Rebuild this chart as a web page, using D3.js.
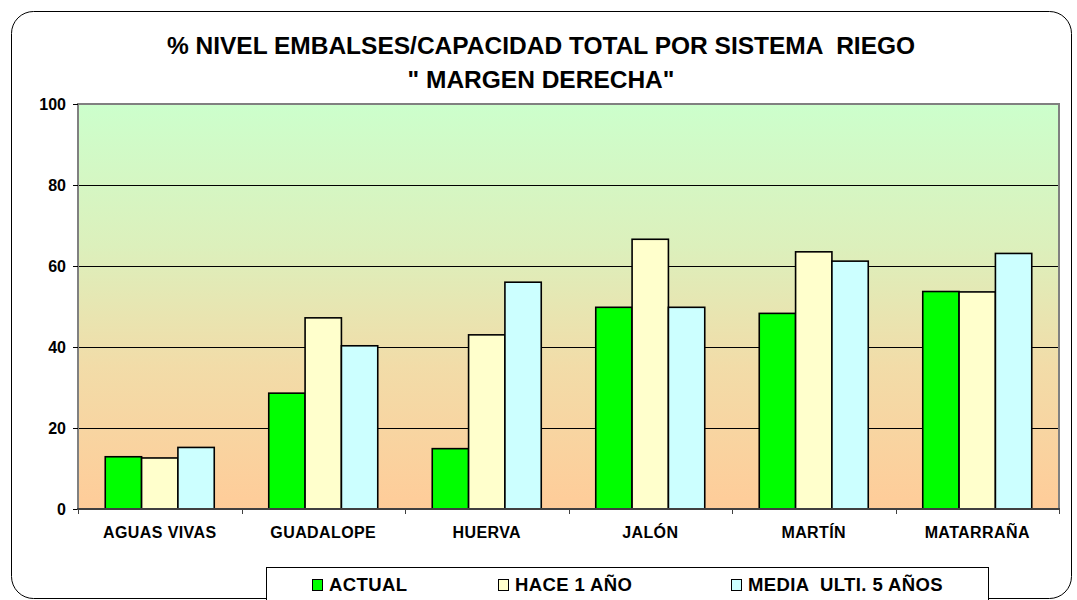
<!DOCTYPE html>
<html>
<head>
<meta charset="utf-8">
<script src="https://cdn.jsdelivr.net/npm/d3@7/dist/d3.min.js"></script>
<style>
  body { margin: 0; background: #fff; }
  svg { display: block; font-family: "Liberation Sans", Arial, sans-serif; font-weight: bold; }
  text { white-space: pre; }
</style>
</head>
<body>
<svg id="chart" width="1077" height="600"></svg>
<script>
// datos
const categories = ['AGUAS VIVAS', 'GUADALOPE', 'HUERVA', 'JALÓN', 'MARTÍN', 'MATARRAÑA']
const seriesNames = ['ACTUAL', 'HACE 1 AÑO', 'MEDIA  ULTI. 5 AÑOS']
const actual = [12.9, 28.6, 14.9, 49.8, 48.3, 53.7]
const haceUnAno = [12.6, 47.2, 43.0, 66.6, 63.5, 53.6]
const media5 = [15.2, 40.3, 56.0, 49.8, 61.2, 63.1]
const yTicks = [0, 20, 40, 60, 80, 100]
const titleLines = ['% NIVEL EMBALSES/CAPACIDAD TOTAL POR SISTEMA  RIEGO', '" MARGEN DERECHA"']

const seriesValues = [actual, haceUnAno, media5]
const colors = ['#00ff00', '#ffffcc', '#ccffff']

let svg = d3.select('#chart')

// marco exterior
svg.append('rect')
  .attr('x', 11.5).attr('y', 11.5)
  .attr('width', 1060).attr('height', 587)
  .attr('rx', 22).attr('ry', 22)
  .attr('fill', '#fff')
  .attr('stroke', '#000')
  .attr('stroke-width', 1)

// area del grafico
let pLeft = 78, pRight = 1059, pTop = 104, pBottom = 509

let x = d3.scaleBand().domain(categories).range([pLeft, pRight])
let xs = d3.scaleBand().domain(seriesNames).range([0, x.bandwidth()]).paddingInner(0).paddingOuter(0.75)
let y = d3.scaleLinear().domain([0, 100]).range([pBottom, pTop])

// degradado de fondo
let grd = svg.append('defs').append('linearGradient')
  .attr('id', 'bg').attr('x1', 0).attr('y1', 0).attr('x2', 0).attr('y2', 1)
grd.append('stop').attr('offset', 0).attr('stop-color', '#ccffcc')
grd.append('stop').attr('offset', 0.35).attr('stop-color', '#dcf0bc')
grd.append('stop').attr('offset', 0.65).attr('stop-color', '#f2dca8')
grd.append('stop').attr('offset', 1).attr('stop-color', '#ffcc99')

svg.append('rect')
  .attr('x', pLeft).attr('y', pTop)
  .attr('width', pRight - pLeft).attr('height', pBottom - pTop)
  .attr('fill', 'url(#bg)')

// lineas de division
svg.append('g')
  .selectAll('line')
  .data(yTicks.filter(d => d > 0 && d < 100))
  .join('line')
  .attr('x1', pLeft).attr('x2', pRight)
  .attr('y1', d => Math.round(y(d)) + 0.5).attr('y2', d => Math.round(y(d)) + 0.5)
  .attr('stroke', '#000')
  .attr('stroke-width', 1)

// borde gris
svg.append('path')
  .attr('d', `M${pLeft},${pBottom} V${pTop} H${pRight} V${pBottom}`)
  .attr('fill', 'none')
  .attr('stroke', '#808080')
  .attr('stroke-width', 2)

// barras
let groups = svg.append('g')
  .selectAll('g')
  .data(categories)
  .join('g')
  .attr('transform', d => `translate(${x(d)},0)`)

groups.selectAll('rect')
  .data((c, i) => seriesNames.map((s, j) => ({ s: s, j: j, v: seriesValues[j][i] })))
  .join('rect')
  .attr('x', d => xs(d.s))
  .attr('y', d => y(d.v))
  .attr('width', xs.bandwidth())
  .attr('height', d => y(0) - y(d.v))
  .attr('fill', d => colors[d.j])
  .attr('stroke', '#000')
  .attr('stroke-width', 1.6)

// eje y
let yAxis = svg.append('g')
  .attr('transform', `translate(${pLeft},0)`)
  .call(d3.axisLeft(y).tickValues(yTicks).tickSize(5).tickPadding(7))
yAxis.select('.domain').remove()
yAxis.selectAll('.tick line').attr('stroke', '#000')
yAxis.selectAll('.tick text')
  .attr('fill', '#000')
  .style('font-size', '16px')
  .style('font-family', '"Liberation Sans", Arial, sans-serif')
  .style('font-weight', 'bold')

// eje x
svg.append('line')
  .attr('x1', pLeft - 1).attr('x2', pRight + 1)
  .attr('y1', pBottom).attr('y2', pBottom)
  .attr('stroke', '#404040')
  .attr('stroke-width', 2)

svg.append('g')
  .selectAll('line')
  .data(categories.concat(['end']))
  .join('line')
  .attr('x1', (d, i) => Math.round(pLeft + i * x.step()) + 0.5)
  .attr('x2', (d, i) => Math.round(pLeft + i * x.step()) + 0.5)
  .attr('y1', pBottom).attr('y2', pBottom + 5)
  .attr('stroke', '#404040')

let xAxis = svg.append('g')
  .attr('transform', `translate(0,${pBottom})`)
  .call(d3.axisBottom(x).tickSize(0).tickPadding(18))
xAxis.select('.domain').remove()
xAxis.selectAll('.tick text')
  .attr('fill', '#000')
  .style('font-size', '16px')
  .style('font-family', '"Liberation Sans", Arial, sans-serif')
  .style('font-weight', 'bold')
  .style('letter-spacing', '0.4px')

// titulo
svg.append('g')
  .selectAll('text')
  .data(titleLines)
  .join('text')
  .attr('x', 541)
  .attr('y', (d, i) => 54 + i * 34)
  .attr('text-anchor', 'middle')
  .style('font-size', '24.5px')
  .text(d => d)

// leyenda
svg.append('rect')
  .attr('x', 266.5).attr('y', 567.5)
  .attr('width', 722).attr('height', 50)
  .attr('fill', '#fff')
  .attr('stroke', '#000')
  .attr('stroke-width', 1)

let legendX = [312, 498, 731]
let legend = svg.append('g')
  .selectAll('g')
  .data(seriesNames)
  .join('g')
  .attr('transform', (d, i) => `translate(${legendX[i]},579)`)

legend.append('rect')
  .attr('x', 0.5).attr('y', 0.5)
  .attr('width', 10).attr('height', 11)
  .attr('fill', (d, i) => colors[i])
  .attr('stroke', '#000')
  .attr('stroke-width', 1)

legend.append('text')
  .attr('x', 17)
  .attr('y', 12)
  .style('font-size', '18.5px')
  .style('letter-spacing', '0.4px')
  .text(d => d)
</script>
</body>
</html>
